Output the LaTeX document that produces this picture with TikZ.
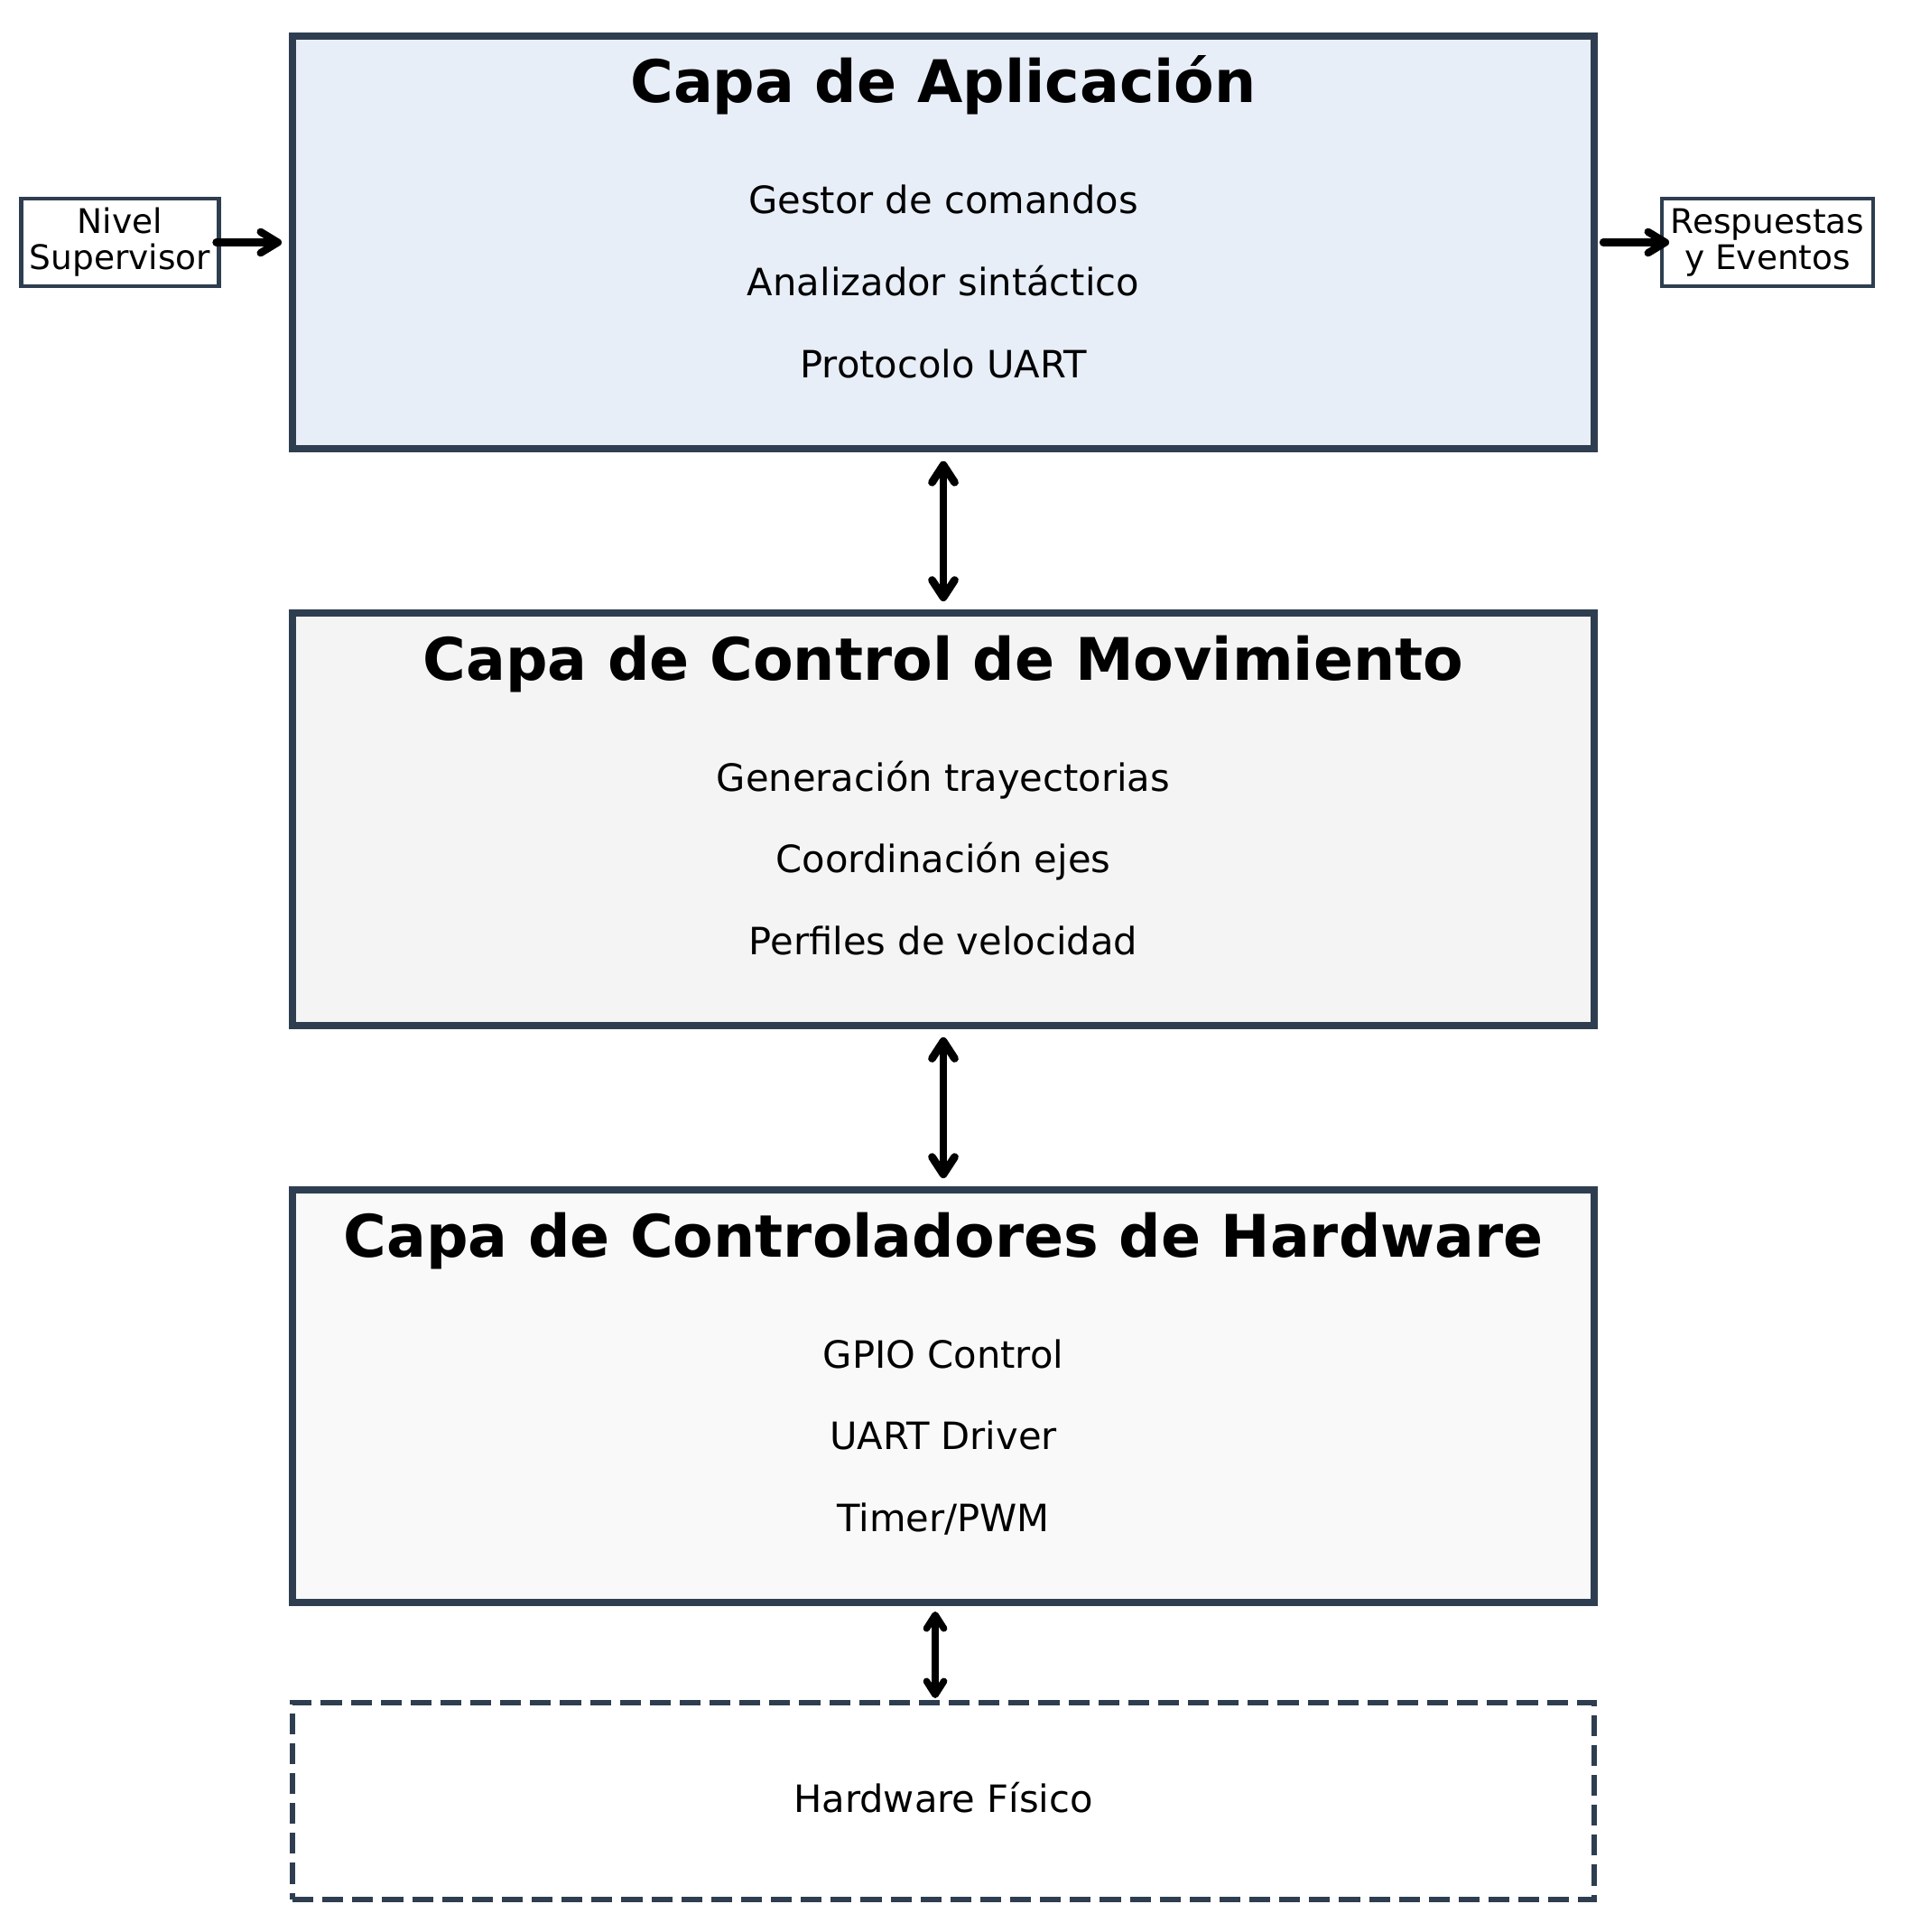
\documentclass[tikz,border=0pt]{standalone}
\usepackage{fontspec}
\setmainfont{DejaVu Sans}
\usetikzlibrary{positioning,arrows.meta}

\definecolor{borde}{HTML}{2E3E50}
\definecolor{fondoApp}{HTML}{E8EEF8}
\definecolor{fondoMov}{HTML}{F4F4F4}
\definecolor{fondoCtrl}{HTML}{F9F9F9}

\tikzstyle{capa} = [rectangle, minimum width=346.08pt, minimum height=109.68pt, inner sep=0pt, outer sep=0pt, draw=borde, line width=2pt]
\tikzstyle{titulo} = [anchor=base, inner sep=0pt, font=\fontsize{15.6}{18}\selectfont\bfseries]
\tikzstyle{item} = [anchor=base, inner sep=0pt, font=\fontsize{10}{12}\selectfont]
\tikzstyle{ext} = [rectangle, minimum height=23.28pt, inner sep=0pt, outer sep=0pt, align=center, draw=borde, line width=1.1pt, font=\fontsize{9}{9.6}\selectfont]
\tikzstyle{flecha} = [draw=black, line width=2pt, line cap=round, -{Straight Barb[length=4.6pt,width=5.6pt,round]}]
\tikzstyle{doble} = [draw=black, line width=2.1pt, line cap=round, {Straight Barb[length=4.6pt,width=6pt,round]}-{Straight Barb[length=4.6pt,width=6pt,round]}]
\tikzstyle{dobleb} = [draw=black, line width=1.8pt, line cap=round, {Straight Barb[length=3.6pt,width=4.6pt,round]}-{Straight Barb[length=3.6pt,width=4.6pt,round]}]

\begin{document}
\begin{tikzpicture}[-,auto,node distance=153.36pt]
\useasboundingbox (0,0) rectangle (513.12pt,-513.6pt);

\node[capa, fill=fondoApp] (App) at (250.8pt,-64.44pt) {};
\node[capa, fill=fondoMov] (Mov) [below of=App] {};
\node[capa, fill=fondoCtrl] (Ctrl) [below of=Mov] {};
\node[capa, fill=white, minimum height=52.32pt, line width=1.5pt, dash pattern=on 5.55pt off 2.4pt, text depth=2pt, font=\fontsize{10}{12}\selectfont] (Fisico) [below of=Ctrl, node distance=107.64pt] {Hardware Físico};

\node[titulo] at ([yshift=37.08pt]App) {Capa de Aplicación};
\node[item] at ([yshift=7.56pt]App) {Gestor de comandos};
\node[item] at ([yshift=-14.04pt]App) {Analizador sintáctico};
\node[item] at ([yshift=-35.88pt]App) {Protocolo UART};

\node[titulo] at ([yshift=37.08pt]Mov) {Capa de Control de Movimiento};
\node[item] at ([yshift=7.56pt]Mov) {Generación trayectorias};
\node[item] at ([yshift=-14.04pt]Mov) {Coordinación ejes};
\node[item] at ([yshift=-35.88pt]Mov) {Perfiles de velocidad};

\node[titulo] at ([yshift=37.08pt]Ctrl) {Capa de Controladores de Hardware};
\node[item] at ([yshift=7.56pt]Ctrl) {GPIO Control};
\node[item] at ([yshift=-14.04pt]Ctrl) {UART Driver};
\node[item] at ([yshift=-35.88pt]Ctrl) {Timer/PWM};

\node[ext, minimum width=52.56pt] (Nivel) [left of=App, node distance=218.88pt] {Nivel\\Supervisor};
\node[ext, minimum width=56.16pt] (Resp) [right of=App, node distance=219.12pt] {Respuestas\\y Eventos};

\path
  (Nivel) edge[flecha, shorten <=-0.72pt, shorten >=2.88pt] (App)
  (App) edge[flecha, shorten <=2.4pt, shorten >=-1.92pt] (Resp)
  (App) edge[doble, shorten <=3.3pt, shorten >=3.1pt] (Mov)
  (Mov) edge[doble, shorten <=3.1pt, shorten >=3.1pt] (Ctrl)
  ([xshift=-2.16pt]Ctrl.south) edge[dobleb, shorten <=2.4pt, shorten >=1.2pt] ([xshift=-2.16pt]Fisico.north)
  ;

\end{tikzpicture}
\end{document}
